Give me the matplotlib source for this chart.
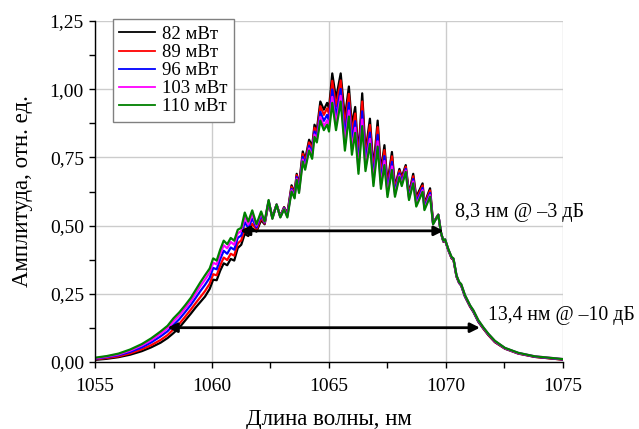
import matplotlib
matplotlib.use("Agg")
import matplotlib.pyplot as plt
from matplotlib.ticker import MultipleLocator, FuncFormatter

# wavelength grid, nm (shared by all series)
wavelength = [
    1055.00, 1055.50, 1056.00, 1056.50, 1057.00, 1057.40, 1057.80, 1058.10, 1058.35, 1058.60,
    1058.85, 1059.10, 1059.30, 1059.50, 1059.70, 1059.90, 1060.05, 1060.20, 1060.35, 1060.50,
    1060.65, 1060.80, 1060.95, 1061.10, 1061.25, 1061.40, 1061.55, 1061.72, 1061.90, 1062.10,
    1062.25, 1062.42, 1062.58, 1062.76, 1062.92, 1063.08, 1063.22, 1063.40, 1063.53, 1063.62,
    1063.72, 1063.88, 1063.98, 1064.15, 1064.28, 1064.38, 1064.48, 1064.63, 1064.78, 1064.92,
    1065.00, 1065.14, 1065.30, 1065.50, 1065.68, 1065.85, 1065.98, 1066.12, 1066.26, 1066.42,
    1066.56, 1066.75, 1066.90, 1067.08, 1067.22, 1067.37, 1067.50, 1067.69, 1067.82, 1068.01,
    1068.11, 1068.28, 1068.42, 1068.60, 1068.73, 1069.00, 1069.08, 1069.32, 1069.45, 1069.67,
    1069.79, 1069.89, 1069.96, 1070.10, 1070.24, 1070.32, 1070.45, 1070.56, 1070.65, 1070.81,
    1071.03, 1071.17, 1071.38, 1071.60, 1071.81, 1072.09, 1072.52, 1073.09, 1073.80, 1075.00,
]

amp_82 = [
    0.008, 0.012, 0.018, 0.027, 0.040, 0.054, 0.071, 0.088, 0.106, 0.126,
    0.152, 0.178, 0.200, 0.220, 0.240, 0.268, 0.302, 0.300, 0.335, 0.362,
    0.355, 0.378, 0.372, 0.418, 0.430, 0.470, 0.462, 0.490, 0.478, 0.520,
    0.505, 0.585, 0.532, 0.576, 0.535, 0.568, 0.545, 0.648, 0.622, 0.690,
    0.650, 0.772, 0.742, 0.815, 0.790, 0.870, 0.850, 0.955, 0.925, 0.950,
    0.930, 1.058, 0.965, 1.058, 0.895, 1.010, 0.870, 0.935, 0.760, 0.985,
    0.770, 0.892, 0.710, 0.885, 0.700, 0.795, 0.655, 0.770, 0.643, 0.708,
    0.678, 0.722, 0.618, 0.690, 0.605, 0.655, 0.582, 0.637, 0.510, 0.540,
    0.472, 0.441, 0.447, 0.410, 0.380, 0.375, 0.313, 0.290, 0.280, 0.240,
    0.203, 0.184, 0.148, 0.122, 0.099, 0.073, 0.049, 0.031, 0.019, 0.009,
]

amp_89 = [
    0.010, 0.015, 0.021, 0.032, 0.047, 0.062, 0.081, 0.099, 0.120, 0.140,
    0.166, 0.193, 0.216, 0.238, 0.260, 0.287, 0.322, 0.318, 0.354, 0.383,
    0.374, 0.397, 0.390, 0.435, 0.446, 0.490, 0.475, 0.507, 0.485, 0.528,
    0.508, 0.587, 0.530, 0.577, 0.534, 0.566, 0.541, 0.642, 0.617, 0.685,
    0.643, 0.763, 0.733, 0.805, 0.779, 0.859, 0.839, 0.938, 0.906, 0.930,
    0.909, 1.031, 0.936, 1.032, 0.865, 0.983, 0.843, 0.911, 0.743, 0.955,
    0.753, 0.869, 0.694, 0.861, 0.684, 0.777, 0.643, 0.754, 0.634, 0.701,
    0.670, 0.716, 0.612, 0.681, 0.596, 0.647, 0.576, 0.629, 0.509, 0.540,
    0.473, 0.442, 0.448, 0.411, 0.381, 0.376, 0.314, 0.291, 0.282, 0.242,
    0.204, 0.186, 0.150, 0.123, 0.100, 0.074, 0.050, 0.032, 0.019, 0.009,
]

amp_96 = [
    0.012, 0.018, 0.025, 0.037, 0.054, 0.072, 0.094, 0.113, 0.136, 0.157,
    0.183, 0.210, 0.235, 0.260, 0.283, 0.309, 0.345, 0.340, 0.377, 0.408,
    0.397, 0.420, 0.412, 0.455, 0.464, 0.513, 0.491, 0.526, 0.493, 0.538,
    0.511, 0.590, 0.528, 0.577, 0.532, 0.564, 0.537, 0.635, 0.610, 0.678,
    0.634, 0.752, 0.722, 0.793, 0.765, 0.845, 0.825, 0.917, 0.884, 0.906,
    0.883, 0.999, 0.902, 1.001, 0.829, 0.950, 0.810, 0.883, 0.722, 0.919,
    0.732, 0.841, 0.674, 0.833, 0.664, 0.755, 0.628, 0.734, 0.623, 0.692,
    0.660, 0.708, 0.605, 0.671, 0.586, 0.638, 0.568, 0.620, 0.507, 0.540,
    0.473, 0.443, 0.449, 0.412, 0.383, 0.378, 0.316, 0.292, 0.283, 0.243,
    0.206, 0.187, 0.151, 0.125, 0.102, 0.076, 0.051, 0.033, 0.020, 0.010,
]

amp_103 = [
    0.014, 0.020, 0.028, 0.042, 0.061, 0.080, 0.104, 0.124, 0.149, 0.171,
    0.197, 0.224, 0.251, 0.278, 0.302, 0.328, 0.364, 0.358, 0.397, 0.428,
    0.417, 0.440, 0.430, 0.472, 0.480, 0.532, 0.504, 0.543, 0.500, 0.546,
    0.513, 0.592, 0.526, 0.578, 0.531, 0.562, 0.533, 0.630, 0.604, 0.672,
    0.626, 0.742, 0.712, 0.783, 0.754, 0.834, 0.814, 0.899, 0.865, 0.886,
    0.862, 0.972, 0.873, 0.976, 0.799, 0.922, 0.782, 0.859, 0.704, 0.889,
    0.714, 0.818, 0.658, 0.809, 0.648, 0.737, 0.615, 0.717, 0.613, 0.684,
    0.652, 0.702, 0.599, 0.662, 0.577, 0.630, 0.562, 0.612, 0.506, 0.540,
    0.474, 0.444, 0.449, 0.413, 0.384, 0.379, 0.317, 0.293, 0.285, 0.245,
    0.207, 0.189, 0.153, 0.126, 0.103, 0.077, 0.051, 0.033, 0.021, 0.011,
]

amp_110 = [
    0.016, 0.022, 0.031, 0.046, 0.066, 0.087, 0.112, 0.133, 0.160, 0.182,
    0.208, 0.236, 0.264, 0.292, 0.318, 0.343, 0.380, 0.372, 0.412, 0.445,
    0.432, 0.455, 0.445, 0.485, 0.492, 0.548, 0.515, 0.556, 0.505, 0.552,
    0.515, 0.594, 0.525, 0.578, 0.530, 0.560, 0.530, 0.625, 0.600, 0.668,
    0.620, 0.735, 0.705, 0.775, 0.745, 0.825, 0.805, 0.885, 0.850, 0.870,
    0.845, 0.950, 0.850, 0.955, 0.775, 0.900, 0.760, 0.840, 0.690, 0.865,
    0.700, 0.800, 0.645, 0.790, 0.635, 0.722, 0.605, 0.704, 0.606, 0.678,
    0.645, 0.697, 0.594, 0.655, 0.570, 0.624, 0.557, 0.606, 0.505, 0.540,
    0.474, 0.445, 0.450, 0.414, 0.385, 0.380, 0.318, 0.294, 0.286, 0.246,
    0.208, 0.190, 0.154, 0.127, 0.104, 0.078, 0.052, 0.034, 0.021, 0.011,
]

labels = ["82 мВт", "89 мВт", "96 мВт", "103 мВт", "110 мВт"]
colors = ["black", "#ff0000", "#0000ff", "#ff00ff", "#008000"]

# bandwidth markers: (start, end, level, text)
bw_3db = (1061.2, 1069.9, 0.481, "8,3 нм @ \u20133 дБ")
bw_10db = (1058.1, 1071.45, 0.126, "13,4 нм @ \u201310 дБ")

plt.rcParams['font.family'] = ['Liberation Serif', 'DejaVu Serif']

fig = plt.figure(figsize=(6.39, 4.29), dpi=100)
ax = fig.add_subplot(111)
fig.subplots_adjust(left=0.1487, right=0.881, bottom=0.156, top=0.951)

series = [amp_82, amp_89, amp_96, amp_103, amp_110]
for amp, lab, col in zip(series, labels, colors):
    ax.plot(wavelength, amp, color=col, lw=1.6, label=lab)

for x0, x1, y, txt in [bw_3db, bw_10db]:
    ax.annotate("", xy=(x0, y), xytext=(x1, y),
                arrowprops=dict(arrowstyle="<|-|>", color="black", lw=2,
                                mutation_scale=14, shrinkA=0, shrinkB=0))

ax.text(1070.4, 0.55, bw_3db[3], fontsize=14.5, va="center", ha="left")
ax.text(1071.8, 0.172, bw_10db[3], fontsize=14.2, va="center", ha="left")

ax.set_xlim(1055, 1075)
ax.set_ylim(0, 1.25)
ax.xaxis.set_major_locator(MultipleLocator(5))
ax.xaxis.set_minor_locator(MultipleLocator(2.5))
ax.yaxis.set_major_locator(MultipleLocator(0.25))
ax.yaxis.set_minor_locator(MultipleLocator(0.125))
ax.yaxis.set_major_formatter(FuncFormatter(lambda v, p: ("%.2f" % v).replace(".", ",")))
ax.tick_params(which="both", direction="out", labelsize=14, width=1)
ax.tick_params(which="major", length=4.5)
ax.tick_params(which="minor", length=4)
ax.tick_params(axis="x", which="major", pad=7)

ax.grid(True, which="major", color="#cccccc", lw=1)
ax.set_axisbelow(True)
for s in ["top", "right"]:
    ax.spines[s].set_visible(False)
for s in ["left", "bottom"]:
    ax.spines[s].set_linewidth(1)

ax.set_xlabel("Длина волны, нм", fontsize=16.5, labelpad=10)
ax.set_ylabel("Амплитуда, отн. ед.", fontsize=16.5, labelpad=12)

leg = ax.legend(loc="upper left", bbox_to_anchor=(0.038, 1.005), borderaxespad=0,
                fontsize=13.5, fancybox=False, edgecolor="gray", framealpha=1,
                handlelength=1.9, handletextpad=0.35, labelspacing=0.05,
                borderpad=0.35)
leg.get_frame().set_linewidth(1)
for line in leg.get_lines():
    line.set_linewidth(1.3)

plt.savefig("out.png", dpi=100)
plt.close()
